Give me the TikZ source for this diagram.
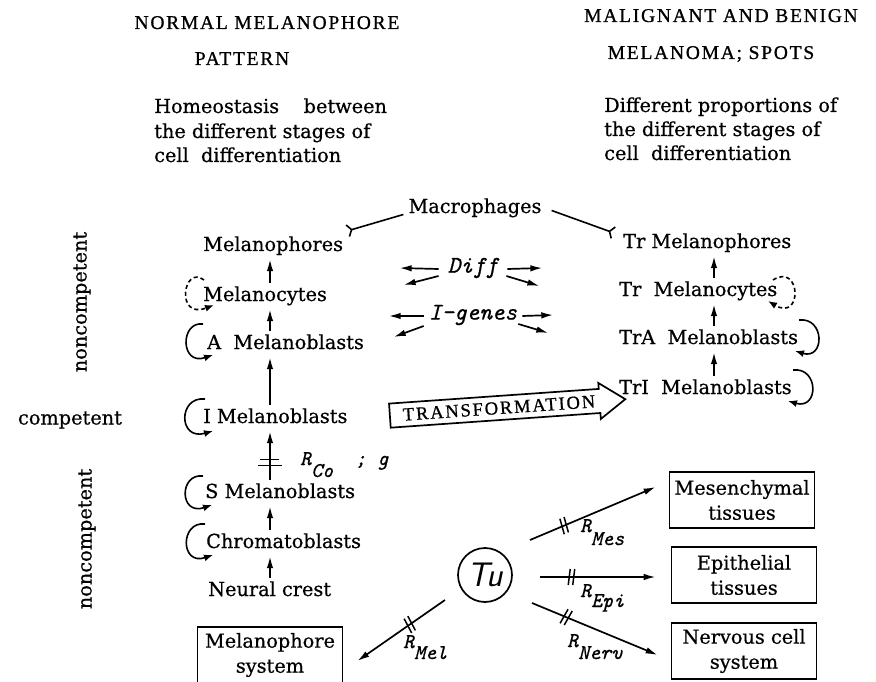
\documentclass[tikz,border=0pt]{standalone}
\usepackage{fontspec}
\setmainfont{DejaVu Serif}[FakeBold=0.6]
\setmonofont{Latin Modern Mono}[FakeBold=0.8]
\newfontfamily\hd{Liberation Serif}[LetterSpace=9,FakeBold=0.8]
\newfontfamily\hdb{Liberation Serif}[LetterSpace=10,FakeBold=0.8]
\usetikzlibrary{arrows.meta,shapes.arrows,decorations.markings}
\begin{document}
\begin{tikzpicture}[x=1pt,y=-1pt,
  txt/.style={font=\fontsize{19.3}{22}\selectfont, inner sep=2pt, text height=13pt, text depth=4pt},
  head/.style={font=\hd\fontsize{19.5}{22}\selectfont, inner sep=0pt, anchor=base},
  itl/.style={font=\ttfamily\itshape\fontsize{24}{26}\selectfont, inner sep=1pt},
  rl/.style={font=\ttfamily\itshape\fontsize{21}{24}\selectfont, inner sep=0pt, anchor=base west},
  arr/.style={line width=1.7pt, -{Latex[length=12pt,width=6.5pt]}},
  varr/.style={arr, shorten <=3pt, shorten >=2pt},
  loopl/.style={line width=1.6pt, -{Latex[length=9pt,width=7pt]}},
  fork/.style={line width=1.6pt, -{Straight Barb[reversed,length=4pt,width=12pt]}},
  boxn/.style={draw, line width=1.7pt, minimum width=145pt, minimum height=56pt, align=center, font=\fontsize{19.3}{25}\selectfont, inner sep=2pt},
  blocked/.style={postaction={decorate},decoration={markings, mark=at position #1 with {\draw[line width=1.5pt,-] (-3pt,-8pt) -- (-1pt,8pt) (1.5pt,-8pt) -- (3.5pt,8pt);}}},
  blockedw/.style={postaction={decorate},decoration={markings, mark=at position #1 with {\draw[line width=1.5pt,-] (-3pt,-12pt) -- (-3pt,12pt) (3pt,-12pt) -- (3pt,12pt);}}},
]
\useasboundingbox[fill=white] (0,0) rectangle (876,682);

% headers
\node[head] (h1) at (267,29) {NORMAL MELANOPHORE};
\node[head] (h2) at (242,65) {PATTERN};
\node[head] (h3) at (721,22) {MALIGNANT AND BENIGN};
\node[head] (h4) at (711,59) {MELANOMA; SPOTS};

\node[txt, anchor=base west] (p1) at (152,113) {Homeostasis\ \ \ \ between};
\node[txt, anchor=base west] (p2) at (152,138) {the different stages of};
\node[txt, anchor=base west] (p3) at (152,162) {cell\ \ differentiation};
\node[txt, anchor=base west] (q1) at (602,112) {Different proportions of};
\node[txt, anchor=base west] (q2) at (602,136) {the different stages of};
\node[txt, anchor=base west] (q3) at (602,160) {cell\ \ differentiation};

% side labels
\node[txt, rotate=90] (nc1) at (82,302) {noncompetent};
\node[txt] (comp) at (70,420) {competent};
\node[txt, rotate=90] (nc2) at (87,539) {noncompetent};

% left column
\coordinate (cL) at (270,0);
\coordinate (cR) at (714,0);
\node[txt, anchor=base west] (mphore) at (201,251) {Melanophores};
\node[txt, anchor=base west] (mcyte) at (201,301) {Melanocytes};
\node[txt, anchor=base west] (ablast) at (205,349) {A\ \ Melanoblasts};
\node[txt, anchor=base west] (iblast) at (201,423) {I\ Melanoblasts};
\node[txt, anchor=base west] (sblast) at (203,498) {S\ Melanoblasts};
\node[txt, anchor=base west] (chrom) at (204,548) {Chromatoblasts};
\node[txt, anchor=base west] (neural) at (206,596) {Neural crest};

\draw[varr] (mcyte.north -| cL) -- (mphore.south -| cL);
\draw[varr] (ablast.north -| cL) -- (mcyte.south -| cL);
\draw[varr] (iblast.north -| cL) -- (ablast.south -| cL);
\draw[varr, blockedw=0.38] (sblast.north -| cL) -- (iblast.south -| cL);
\draw[varr] (chrom.north -| cL) -- (sblast.south -| cL);
\draw[varr] (neural.north -| cL) -- (chrom.south -| cL);

% left loops
\draw[loopl, dashed, dash pattern=on 4pt off 3pt] (204,280) .. controls (183,264) and (175,320) .. (214,305);
\draw[loopl] (203,324) .. controls (180,321) and (180,366) .. (213,355);
\draw[loopl] (205,399) .. controls (178,396) and (178,441) .. (213,431);
\draw[loopl] (203,476) .. controls (179,473) and (179,516) .. (212,505);
\draw[loopl] (205,524) .. controls (180,521) and (180,566) .. (213,555);

% right column
\node[txt, anchor=base west] (trphore) at (621,248) {Tr Melanophores};
\node[txt, anchor=base west] (trcyte) at (617,296) {Tr\ \ Melanocytes};
\node[txt, anchor=base west] (tra) at (617,344) {TrA\ \ Melanoblasts};
\node[txt, anchor=base west] (tri) at (617,394) {TrI\ \ Melanoblasts};

\draw[varr] (trcyte.north -| cR) -- (trphore.south -| cR);
\draw[varr] (tra.north -| cR) -- (trcyte.south -| cR);
\draw[varr] (tri.north -| cR) -- (tra.south -| cR);

\draw[loopl, dashed, dash pattern=on 4pt off 3pt] (773,280) .. controls (801,262) and (803,322) .. (768,301);
\draw[loopl] (799,320) .. controls (825,317) and (825,360) .. (795,351);
\draw[loopl] (793,370) .. controls (819,367) and (819,410) .. (788,401);

% macrophages
\node[txt, anchor=base] (mac) at (475,213) {Macrophages};
\coordinate (fL) at (347,231);
\coordinate (fR) at (614,233);
\draw[fork] ([xshift=-3pt,yshift=-6pt]mac.west) -- (fL);
\draw[fork] ([xshift=8pt,yshift=-2pt]mac.east) -- (fR);

% Diff and I-genes
\node[itl] (diff) at (473,268) {Diff};
\node[itl] (igen) at (473,315) {I-genes};
\draw[arr] ([xshift=-8pt,yshift=-1pt]diff.west) -- ++(-39,-1);
\draw[arr] ([xshift=-8pt,yshift=-8pt]diff.west) -- ++(-35,9);
\draw[arr] ([xshift=8pt,yshift=-1pt]diff.east) -- ++(35,-1);
\draw[arr] ([xshift=7pt,yshift=-8pt]diff.east) -- ++(33,10);
\draw[arr] ([xshift=-4pt,yshift=-1pt]igen.west) -- ++(-35,0);
\draw[arr] ([xshift=-4pt,yshift=-11pt]igen.west) -- ++(-30,11);
\draw[arr] ([xshift=4pt,yshift=-1pt]igen.east) -- ++(31,-1);
\draw[arr] ([xshift=0pt,yshift=-9pt]igen.east) -- ++(30,9);

% transformation
\node[single arrow, draw, line width=1.7pt, rotate=4, minimum height=236pt, minimum width=34pt,
  single arrow head extend=6pt, single arrow tip angle=70, inner sep=5pt,
  font=\hdb\fontsize{18.5}{20}\selectfont] (trans) at (499,408) {TRANSFORMATION};

% R_Co label
\node[rl] (rco) at (300,465) {R\raisebox{-12pt}{Co}\ \ ;\ g};

% Tu and targets
\node[draw, circle, line width=1.7pt, minimum size=54pt, inner sep=0pt,
  font=\sffamily\itshape\fontsize{34}{34}\selectfont] (tu) at (485,575) {Tu};
\node[boxn] (mes) at (742,500) {Mesenchymal\\tissues};
\node[boxn] (epi) at (744,575) {Epithelial\\tissues};
\node[boxn] (nerv) at (744,651) {Nervous cell\\system};
\node[boxn] (msys) at (270,655) {Melanophore\\system};

\coordinate (tmes) at (530,540);
\coordinate (tepi) at (540,577);
\coordinate (tnerv) at (532,603);
\coordinate (tmel) at (445,600);
\draw[arr, blocked=0.27] (tmes) -- ([xshift=-13pt,yshift=13pt]mes.west);
\draw[arr, blocked=0.27] (tepi) -- ([xshift=-15pt,yshift=-2pt]epi.west);
\draw[arr, blocked=0.27] (tnerv) -- ([xshift=-13pt,yshift=-4pt]nerv.west);
\draw[arr, blocked=0.4] (tmel) -- ([xshift=14pt,yshift=-6pt]msys.east);

\node[rl] (rmes) at (580,532) {R\raisebox{-13pt}{Mes}};
\node[rl] (repi) at (580,597) {R\raisebox{-10pt}{Epi}};
\node[rl] (rnerv) at (567,647) {R\raisebox{-12pt}{Nerv}};
\node[rl] (rmel) at (403,648) {R\raisebox{-11pt}{Mel}};
\end{tikzpicture}
\end{document}
